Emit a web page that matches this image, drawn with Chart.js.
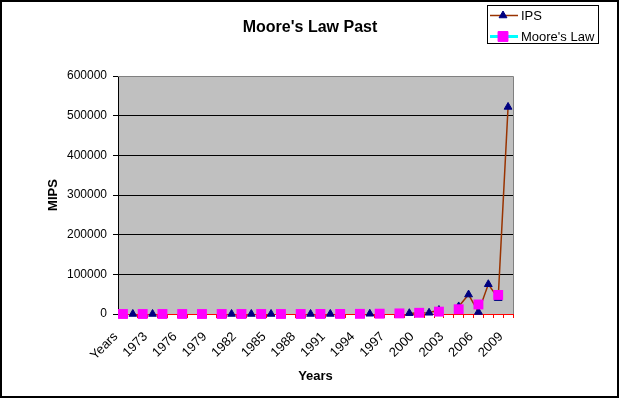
<!DOCTYPE html>
<html><head><meta charset="utf-8">
<script src="https://cdn.jsdelivr.net/npm/chart.js@4/dist/chart.umd.min.js"></script>
<style>html,body{margin:0;padding:0;background:#fff}#wrap{position:relative;width:619px;height:398px}canvas{display:block}</style>
</head><body><div id="wrap"><canvas id="c" width="619" height="398"></canvas></div>
<script>
const categories = ["Years","1971","1972","1973","1974","1975","1976","1977","1978","1979",
  "1980","1981","1982","1983","1984","1985","1986","1987","1988","1989",
  "1990","1991","1992","1993","1994","1995","1996","1997","1998","1999",
  "2000","2001","2002","2003","2004","2005","2006","2007","2008","2009"];
const ipsValues = [null,0.09,null,0.64,null,null,null,null,null,null,
  null,1,null,2.7,null,5,null,null,null,41,
  null,80,null,null,null,540,null,null,null,2000,
  2500,3000,10000,null,19000,49000,5000,75000,40000,522000];
const mooreValues = [0.1,null,0.2,null,0.4,null,0.7,null,1.5,null,
  3,null,6,null,12,null,23,null,47,null,
  94,null,188,null,375,null,750,null,1500,null,
  3000,null,6000,null,12000,null,24000,null,48000,null];
const yTickValues = [0,100000,200000,300000,400000,500000,600000];
const seriesNames = ["IPS","Moore's Law"];
const chartTitle = "Moore's Law Past";

const FONT = "'Liberation Sans', Arial, sans-serif";
Chart.defaults.font.family = FONT;
Chart.defaults.color = '#000';

const bgPlugin = {
  id: 'bg',
  beforeDraw(chart) {
    const {ctx, chartArea: a} = chart;
    ctx.save();
    ctx.fillStyle = '#fff';
    ctx.fillRect(0, 0, chart.width, chart.height);
    ctx.fillStyle = '#C0C0C0';
    ctx.fillRect(a.left, a.top, a.right - a.left, a.bottom - a.top);
    ctx.restore();
  },
  beforeDatasetsDraw(chart) {
    const {ctx, chartArea: a} = chart;
    ctx.save();
    ctx.strokeStyle = '#808080';
    ctx.lineWidth = 1;
    ctx.beginPath();
    ctx.moveTo(a.left, a.top + 0.5);
    ctx.lineTo(a.right + 0.5, a.top + 0.5);
    ctx.lineTo(a.right + 0.5, a.bottom);
    ctx.stroke();
    ctx.restore();
  },
  afterDraw(chart) {
    const ctx = chart.ctx;
    ctx.save();
    ctx.strokeStyle = '#000';
    ctx.lineWidth = 2;
    ctx.strokeRect(1, 1, chart.width - 2, chart.height - 2);
    // title
    ctx.fillStyle = '#000';
    ctx.font = "bold 16px " + FONT;
    ctx.textAlign = 'center';
    ctx.textBaseline = 'middle';
    ctx.fillText(chartTitle, 310, 28);
    // legend
    const lx = 487, ly = 5, lw = 111, lh = 38;
    ctx.fillStyle = '#fff';
    ctx.fillRect(lx, ly, lw, lh);
    ctx.strokeStyle = '#000';
    ctx.lineWidth = 1;
    ctx.strokeRect(lx + 0.5, ly + 0.5, lw, lh);
    const ds = chart.data.datasets;
    const rows = [{ds: ds[1], y: 15.5}, {ds: ds[0], y: 36.5}];
    rows.forEach(r => {
      const d = r.ds;
      ctx.strokeStyle = d.borderColor;
      ctx.lineWidth = d.borderWidth;
      ctx.beginPath();
      ctx.moveTo(490, r.y);
      ctx.lineTo(518, r.y);
      ctx.stroke();
      ctx.fillStyle = d.pointBackgroundColor;
      ctx.strokeStyle = d.pointBorderColor;
      ctx.lineWidth = 1;
      Chart.helpers.drawPoint(ctx, {
        pointStyle: d.pointStyle, radius: d.pointRadius, borderWidth: 1, rotation: 0
      }, 503, r.y);
      ctx.fillStyle = '#000';
      ctx.font = "13px " + FONT;
      ctx.textBaseline = 'middle';
      ctx.textAlign = 'left';
      ctx.fillText(d.label, 521, r.y + 0.5);
    });
    ctx.restore();
  }
};

new Chart(document.getElementById('c'), {
  type: 'line',
  data: {
    labels: categories,
    datasets: [
      {
        label: seriesNames[1], data: mooreValues, order: 0,
        borderColor: '#00FFFF', borderWidth: 3,
        pointStyle: 'rect', pointRadius: 7, pointBackgroundColor: '#FF00FF', pointBorderColor: '#FF00FF',
        pointBorderWidth: 0, spanGaps: false, clip: false
      },
      {
        label: seriesNames[0], data: ipsValues, order: 1,
        borderColor: '#993300', borderWidth: 1.5,
        pointStyle: 'triangle', pointRadius: 4.5, pointBackgroundColor: '#000080', pointBorderColor: '#000080',
        pointBorderWidth: 1, spanGaps: false, clip: false
      }
    ]
  },
  options: {
    responsive: false, animation: false, devicePixelRatio: 1,
    layout: {padding: {top: 76, right: 106, bottom: 0, left: 0}},
    plugins: {
      legend: {display: false},
      tooltip: {enabled: false},
      title: {display: false}
    },
    scales: {
      x: {
        type: 'category', offset: true,
        grid: {drawOnChartArea: false, drawTicks: true, tickLength: 4, color: '#FF0000', offset: true},
        border: {display: true, color: '#FF0000', dash: [4, 2], width: 1},
        ticks: {autoSkip: false, maxRotation: 45, minRotation: 45, color: '#000', padding: 11, labelOffset: -7,
          font: {size: 13, family: FONT},
          callback: (v, i) => (i % 3 === 0 ? categories[i] : '')},
        title: {display: true, text: 'Years', color: '#000', font: {size: 13, weight: 'bold', family: FONT},
          padding: {top: 0, bottom: 14}},
        afterFit: s => { s.height = 84; }
      },
      y: {
        min: 0, max: 600000,
        afterBuildTicks: s => { s.ticks = yTickValues.map(v => ({value: v})); },
        grid: {color: '#000', tickLength: 5, drawTicks: true},
        border: {display: true, color: '#000', width: 1},
        ticks: {color: '#000', padding: 6, font: {size: 12, family: FONT}, callback: v => String(v)},
        title: {display: true, text: 'MIPS', color: '#000', font: {size: 13, weight: 'bold', family: FONT},
          padding: {top: 46, bottom: 0}},
        afterFit: s => { s.width = 118; }
      }
    }
  },
  plugins: [bgPlugin]
});
</script></body></html>
